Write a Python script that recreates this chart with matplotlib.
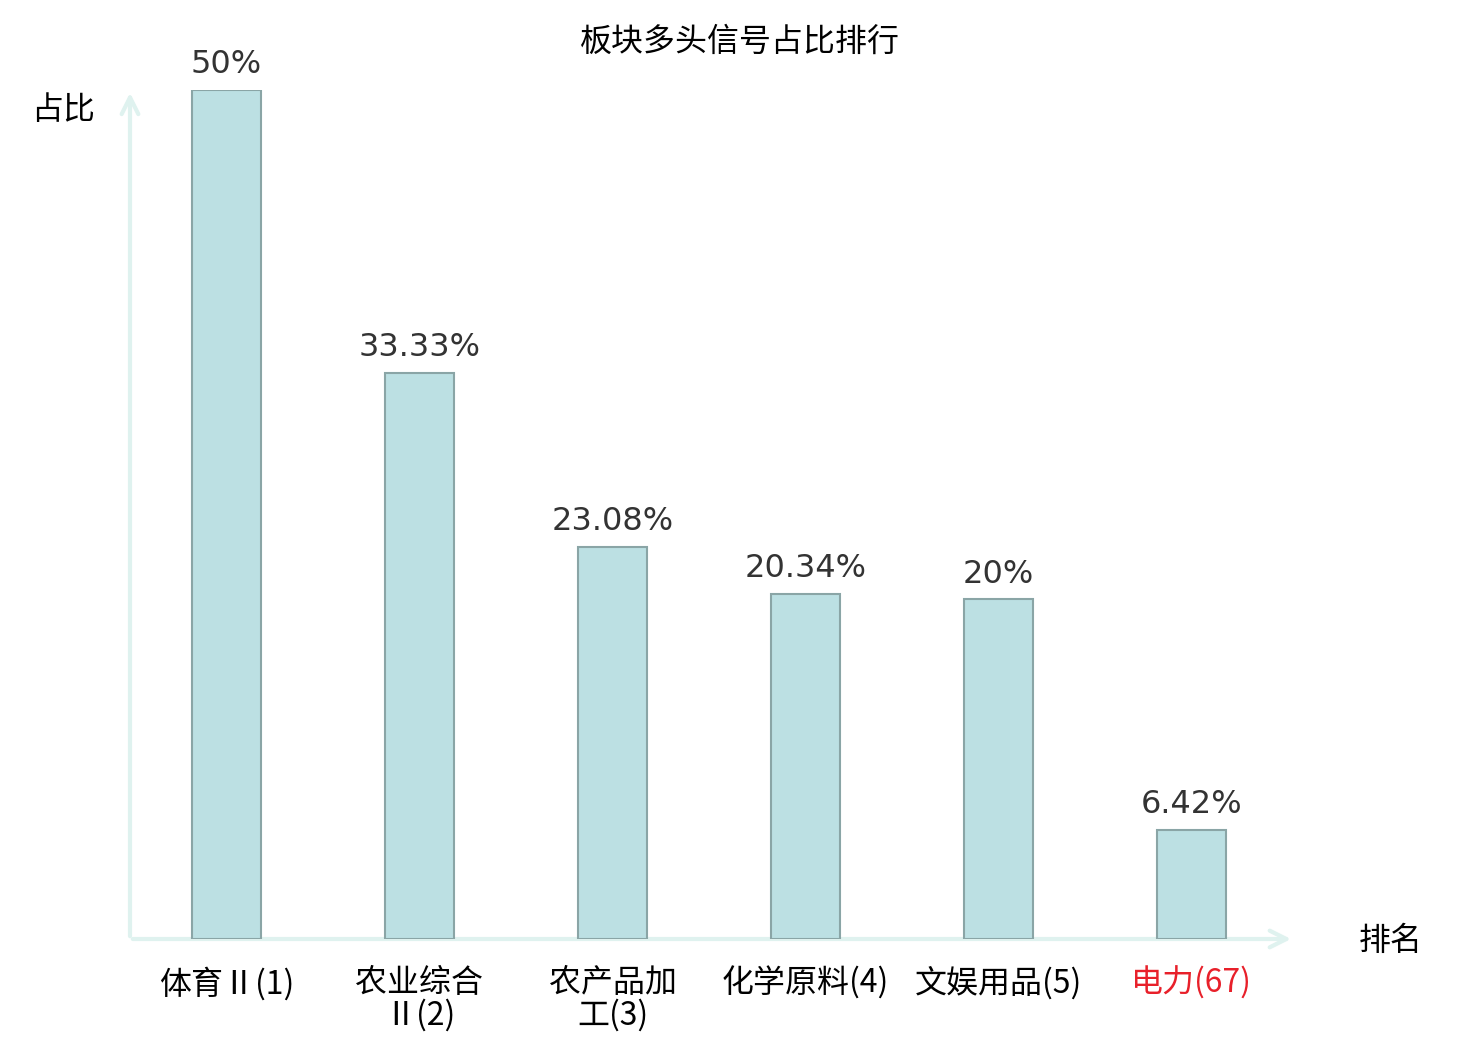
import matplotlib.pyplot as plt

# data
categories = ['体育Ⅱ(1)', '农业综合\nⅡ(2)', '农产品加\n工(3)', '化学原料(4)', '文娱用品(5)', '电力(67)']
values = [50, 33.33, 23.08, 20.34, 20, 6.42]
value_labels = ['50%', '33.33%', '23.08%', '20.34%', '20%', '6.42%']
highlight = '电力(67)'

cjk = ['Noto Sans CJK SC', 'DejaVu Sans']
plt.rcParams['font.family'] = cjk

fig = plt.figure(figsize=(14.8, 10.4), dpi=100)
ax = fig.add_axes([130 / 1480, 1 - 939 / 1040, (1288 - 130) / 1480, (939 - 90) / 1040])

x = list(range(len(categories)))
ax.bar(x, values, width=0.355, color='#bce0e3', edgecolor='#8aa5a6', linewidth=1.5, zorder=3)

for xi, v, lab in zip(x, values, value_labels):
    ax.annotate(lab, (xi, v), xytext=(0, 7), textcoords='offset points',
                ha='center', va='bottom', fontsize=23, color='#333333',
                fontfamily='DejaVu Sans')

ax.set_xlim(-0.5, 5.5)
ax.set_ylim(0, 50)
for s in ax.spines.values():
    s.set_visible(False)
ax.set_yticks([])
ax.set_xticks(x)
ax.set_xticklabels(categories, fontsize=23, linespacing=1.0)
ax.tick_params(axis='x', length=0, pad=20)
for t in ax.get_xticklabels():
    t.set_verticalalignment('top')
    if t.get_text() == highlight:
        t.set_color('#e8202a')

# axis arrows
axis_col = '#dff2ef'
ax.annotate('', xy=(1.005, 0), xytext=(0, 0), xycoords='axes fraction',
            arrowprops=dict(arrowstyle='->', color=axis_col, lw=3, mutation_scale=30),
            annotation_clip=False, zorder=2)
ax.annotate('', xy=(0, 1.0), xytext=(0, 0), xycoords='axes fraction',
            arrowprops=dict(arrowstyle='->', color=axis_col, lw=3, mutation_scale=30),
            annotation_clip=False, zorder=2)

fig.text(63 / 1480, 1 - 110 / 1040, '占比', ha='center', va='center', fontsize=23)
fig.text(1391 / 1480, 1 - 941 / 1040, '排名', ha='center', va='center', fontsize=23)
fig.text(740 / 1480, 1 - 42 / 1040, '板块多头信号占比排行', ha='center', va='center', fontsize=23)

fig.savefig('out.png', dpi=100)
